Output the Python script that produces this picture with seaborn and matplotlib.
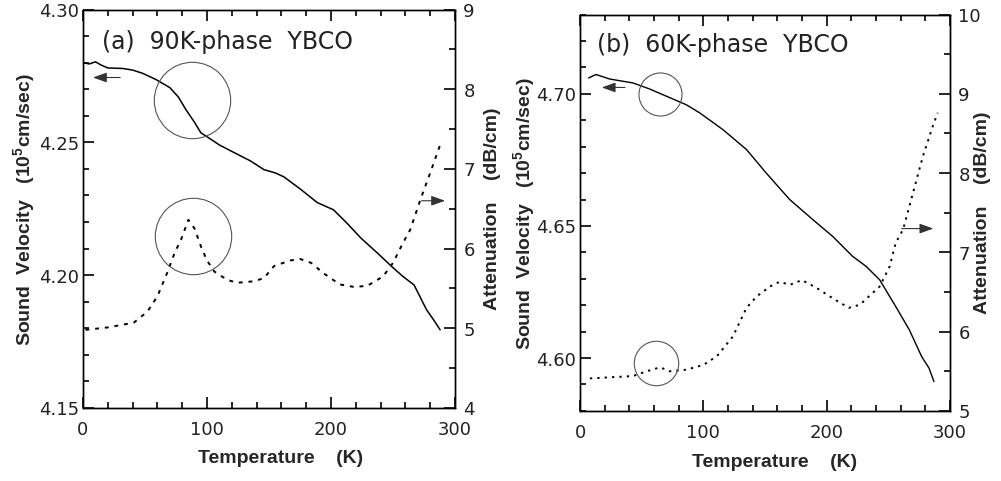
import matplotlib
matplotlib.use("Agg")
import matplotlib.pyplot as plt
import seaborn as sns
from matplotlib.ticker import MultipleLocator, FixedLocator

# ---------------- data ----------------
temp_a_vel = [0, 5, 10, 15, 20, 32, 40, 48, 59, 70, 77, 83, 90, 95, 100, 110, 122, 135,
              146, 155, 162, 175, 189, 202, 213, 224, 237, 250, 258, 267, 277, 283, 288]
vel_a = [4.2800, 4.2795, 4.2803, 4.2790, 4.2780, 4.2778, 4.2772, 4.2760, 4.2736, 4.2706,
         4.2670, 4.2623, 4.2575, 4.2536, 4.2521, 4.2490, 4.2461, 4.2430, 4.2397, 4.2385,
         4.2370, 4.2325, 4.2273, 4.2246, 4.2195, 4.2140, 4.2085, 4.2028, 4.1995, 4.1963,
         4.1870, 4.1830, 4.1794]

temp_a_att = [2, 20, 41, 52, 60, 68, 74, 79, 85, 90, 95, 100, 106, 116, 124, 138, 146, 154,
              167, 175, 184, 194, 207, 218, 229, 242, 250, 258, 264, 272, 280, 288]
att_a = [4.98, 5.01, 5.07, 5.21, 5.40, 5.70, 5.95, 6.11, 6.36, 6.25, 6.03, 5.85, 5.71, 5.61,
         5.57, 5.59, 5.63, 5.78, 5.85, 5.87, 5.82, 5.69, 5.55, 5.52, 5.53, 5.65, 5.82, 6.07,
         6.24, 6.61, 6.95, 7.30]

temp_b_vel = [7, 13, 24, 43, 56, 70, 86, 97, 116, 135, 151, 170, 189, 205, 221, 232, 243,
              256, 267, 277, 283, 287]
vel_b = [4.7060, 4.7073, 4.7056, 4.7041, 4.7019, 4.6991, 4.6959, 4.6928, 4.6864, 4.6789,
         4.6700, 4.6600, 4.6523, 4.6460, 4.6385, 4.6347, 4.6296, 4.6195, 4.6107, 4.6006,
         4.5962, 4.5911]

temp_b_att = [8, 43, 54, 65, 73, 86, 100, 111, 124, 135, 143, 154, 162, 170, 180, 192, 205,
              218, 227, 243, 251, 256, 262, 270, 278, 286, 290]
att_b = [5.41, 5.44, 5.50, 5.55, 5.50, 5.52, 5.58, 5.69, 5.94, 6.30, 6.44, 6.57, 6.63, 6.59,
         6.65, 6.55, 6.42, 6.30, 6.34, 6.57, 6.82, 7.12, 7.29, 7.75, 8.21, 8.59, 8.76]

x_ticks = [0, 100, 200, 300]
yticks_a_left = [4.15, 4.20, 4.25, 4.30]
yticks_a_right = [4, 5, 6, 7, 8, 9]
yticks_b_left = [4.60, 4.65, 4.70]
yticks_b_right = [5, 6, 7, 8, 9, 10]
panel_titles = ["(a)  90K-phase  YBCO", "(b)  60K-phase  YBCO"]
xlabel = "Temperature    (K)"
ylabel_left = "Sound  Velocity   (10$^{\\mathbf{5}}$cm/sec)"
ylabel_right = "Attenuation    (dB/cm)"

# ---------------- style ----------------
sns.set_theme(style="ticks")
plt.rcParams["font.family"] = ["DejaVu Sans"]
plt.rcParams["mathtext.fontset"] = "custom"
plt.rcParams["mathtext.bf"] = "Liberation Sans:bold"
plt.rcParams["mathtext.rm"] = "Liberation Sans:bold"

W, H = 1001, 481
lab_font = dict(family="Liberation Sans", weight="bold", size=14)
tick_size = 13
circle_kw = dict(marker="o", mfc="none", mec="#555555", mew=0.8, linestyle="none")
arrow_kw = dict(arrowstyle="-|>,head_length=0.7,head_width=0.25", color="#333333", lw=0.8,
                shrinkA=0, shrinkB=0)


def frac(l, t, r, b):
    return [l / W, 1 - b / H, (r - l) / W, (b - t) / H]


def manual_ticks(ax, ax2):
    # tick marks drawn from the axes' own locators (fallback only)
    xf = 11.0 / (ax.bbox.height)
    yf = 11.0 / (ax.bbox.width)
    xfm, yfm = xf / 2, yf / 2
    xmaj = [v for v in ax.xaxis.get_majorticklocs() if 0 <= v <= 300]
    xmin = [v for v in ax.xaxis.get_minorticklocs() if 0 <= v <= 300]
    tx = ax.get_xaxis_transform()
    for locs, L in ((xmaj, xf), (xmin, xfm)):
        ax.vlines(locs, 0, L, transform=tx, colors="black", lw=1.2, clip_on=False)
        ax.vlines(locs, 1 - L, 1, transform=tx, colors="black", lw=1.2, clip_on=False)
    for a, side in ((ax, 0), (ax2, 1)):
        lo, hi = a.get_ylim()
        ty = a.get_yaxis_transform()
        ymaj = [v for v in a.yaxis.get_majorticklocs() if lo - 1e-9 <= v <= hi + 1e-9]
        ymin = [v for v in a.yaxis.get_minorticklocs() if lo - 1e-9 <= v <= hi + 1e-9]
        for locs, L in ((ymaj, yf), (ymin, yfm)):
            if side == 0:
                a.hlines(locs, 0, L, transform=ty, colors="black", lw=1.2, clip_on=False)
            else:
                a.hlines(locs, 1 - L, 1, transform=ty, colors="black", lw=1.2, clip_on=False)


def style_panel(ax, ax2, ylim_l, ylim_r, yt_l, yt_r, lx_left, lx_right, xl_pos):
    ax.set_xlim(0, 300)
    ax.set_ylim(*ylim_l)
    ax2.set_ylim(*ylim_r)
    ax.xaxis.set_major_locator(FixedLocator(x_ticks))
    ax.xaxis.set_minor_locator(MultipleLocator(20))
    ax.yaxis.set_major_locator(FixedLocator(yt_l))
    ax.yaxis.set_minor_locator(MultipleLocator(0.01))
    ax.set_yticklabels(["{:.2f}".format(v) for v in yt_l])
    ax2.yaxis.set_major_locator(FixedLocator(yt_r))
    ax2.yaxis.set_minor_locator(MultipleLocator(0.5))
    ax2.set_yticklabels([str(v) for v in yt_r])
    ax.tick_params(axis="both", which="both", direction="in", top=True, right=False,
                   width=1.2, color="black", labelsize=tick_size, labelcolor="#222")
    ax.tick_params(axis="both", which="major", length=8)
    ax.tick_params(axis="both", which="minor", length=4)
    ax.tick_params(axis="x", which="both", pad=9)
    ax.tick_params(axis="y", which="both", pad=3)
    ax2.tick_params(axis="y", which="both", direction="in", width=1.2, color="black",
                    labelsize=tick_size, labelcolor="#222", pad=6)
    ax2.tick_params(axis="y", which="major", length=8)
    ax2.tick_params(axis="y", which="minor", length=4)
    for a in (ax, ax2):
        for s in a.spines.values():
            s.set_linewidth(1.0)
            s.set_color("black")
    ax.set_xlabel(xlabel, fontdict=lab_font)
    ax.set_ylabel(ylabel_left, fontdict=lab_font, va="center")
    ax2.set_ylabel(ylabel_right, fontdict=lab_font, va="center")
    ax.yaxis.set_label_coords(lx_left, 0.5)
    ax2.yaxis.set_label_coords(lx_right, 0.5)
    ax.xaxis.set_label_coords(xl_pos[0], xl_pos[1])
    ax.xaxis.label.set_va("center")


def build(variant):
    fig = plt.figure(figsize=(10.01, 4.815), dpi=100)
    alt = variant >= 1

    # ---- panel (a) ----
    ax_a = fig.add_axes(frac(83, 10, 455, 408))
    ax_a2 = ax_a.twinx()
    sns.lineplot(x=temp_a_vel, y=vel_a, ax=ax_a, color="black", linewidth=1.1)
    sns.lineplot(x=temp_a_att, y=att_a, ax=ax_a2, color="black", linewidth=1.4,
                 linestyle=(0, (2.0, 3.0)))
    style_panel(ax_a, ax_a2, (4.15, 4.30), (4, 9), yticks_a_left, yticks_a_right,
                -0.156, 1.102, (0.53, -0.125))

    # ---- panel (b) ----
    ax_b = fig.add_axes(frac(580, 15, 950, 411))
    ax_b2 = ax_b.twinx()
    sns.lineplot(x=temp_b_vel, y=vel_b, ax=ax_b, color="black", linewidth=1.0)
    sns.lineplot(x=temp_b_att, y=att_b, ax=ax_b2, color="black", linewidth=1.4,
                 linestyle=(0, (1.2, 2.6)))
    style_panel(ax_b, ax_b2, (4.58, 4.73), (5, 10), yticks_b_left, yticks_b_right,
                -0.149, 1.089, (0.527, -0.13))

    if not alt:
        ax_a.text(0.05, 0.92, panel_titles[0], transform=ax_a.transAxes, fontsize=17,
                  color="#222", va="center", ha="left")
        ax_b.text(0.046, 0.924, panel_titles[1], transform=ax_b.transAxes, fontsize=17,
                  color="#222", va="center", ha="left")
        ax_a.plot([87.5], [4.2661], ms=55, **circle_kw)
        ax_a2.plot([88.7], [6.16], ms=55, **circle_kw)
        ax_a.annotate("", xy=(8, 4.2744), xytext=(30, 4.2744), arrowprops=arrow_kw)
        ax_a2.annotate("", xy=(292, 6.60), xytext=(273, 6.60), arrowprops=arrow_kw)
        ax_b.plot([64.9], [4.6999], ms=31, **circle_kw)
        ax_b2.plot([62.0], [5.61], ms=32, **circle_kw)
        ax_b.annotate("", xy=(17.6, 4.7024), xytext=(36.5, 4.7024), arrowprops=arrow_kw)
        ax_b2.annotate("", xy=(286.5, 7.30), xytext=(260.8, 7.30), arrowprops=arrow_kw)
    else:
        fig.text(102 / W, 1 - 42 / H, panel_titles[0], fontsize=17, color="#222",
                 va="center", ha="left")
        fig.text(597 / W, 1 - 45 / H, panel_titles[1], fontsize=17, color="#222",
                 va="center", ha="left")
        ax_a.plot([87.5, 88.7], [4.2661, 4.2150], ms=55, **circle_kw)
        ax_a.annotate("", xy=(8, 4.2744), xytext=(30, 4.2744), arrowprops=arrow_kw)
        ax_a.annotate("", xy=(292, 4.2280), xytext=(273, 4.2280), arrowprops=arrow_kw)
        ax_b.plot([64.9, 62.0], [4.6999, 4.5983], ms=31, **circle_kw)
        ax_b.annotate("", xy=(17.6, 4.7024), xytext=(36.5, 4.7024), arrowprops=arrow_kw)
        ax_b.annotate("", xy=(286.5, 4.6490), xytext=(260.8, 4.6490), arrowprops=arrow_kw)

    if variant >= 2:
        manual_ticks(ax_a, ax_a2)
        manual_ticks(ax_b, ax_b2)

    fig.savefig("out.png", dpi=100, facecolor="white")
    img = plt.imread("out.png")
    plt.close(fig)
    dark1 = img[398:406, 204:210, :3].mean(axis=2).min()
    dark2 = img[273:279, 86:92, :3].mean(axis=2).min()
    return dark1 < 0.5 and dark2 < 0.5


for v in (0, 1, 2):
    if build(v):
        break
